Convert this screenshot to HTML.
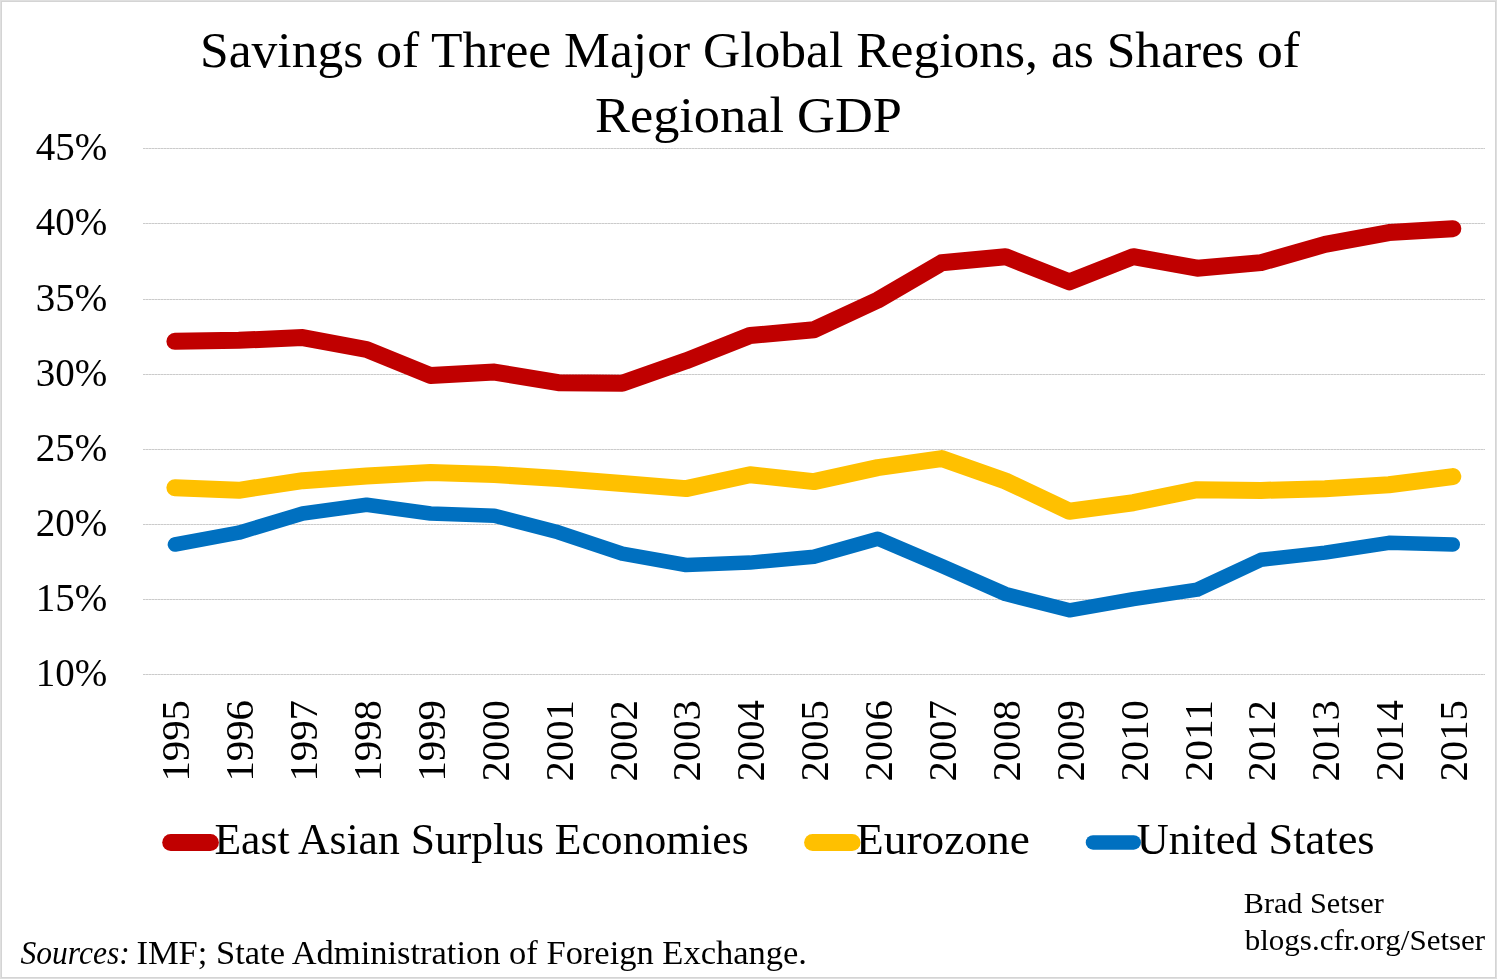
<!DOCTYPE html>
<html><head><meta charset="utf-8">
<style>
html,body{margin:0;padding:0;background:#fff;}
#c{position:relative;width:1497px;height:979px;overflow:hidden;background:#fff;}
#c .bd{position:absolute;left:0;top:0;width:1497px;height:979px;box-sizing:border-box;border:2px solid #dcdcdc;}
svg{position:absolute;left:0;top:0;will-change:transform;}
text{font-family:"Liberation Serif",serif;fill:#000;}
.tt{font-size:51.5px;}
.yl{font-size:39px;}
.xl{font-size:39.5px;}
.lg{font-size:43.8px;}
.src{font-size:34.5px;}
.by{font-size:30px;}
</style></head>
<body><div id="c">
<svg width="1497" height="979" viewBox="0 0 1497 979">
<rect x="1" y="1" width="1495" height="977" fill="none" stroke="#dfdfdf" stroke-width="2"/>
<rect x="1.5" y="1.5" width="1494" height="976" fill="none" stroke="#c9c9c9" stroke-width="1" stroke-dasharray="1 1"/>
<rect x="143" y="148" width="1342" height="1" fill="#dedede"/>
<line x1="143" y1="148.5" x2="1485" y2="148.5" stroke="#cbcbcb" stroke-width="1" stroke-dasharray="2 1"/>
<rect x="143" y="223" width="1342" height="1" fill="#dedede"/>
<line x1="143" y1="223.5" x2="1485" y2="223.5" stroke="#cbcbcb" stroke-width="1" stroke-dasharray="2 1"/>
<rect x="143" y="299" width="1342" height="1" fill="#dedede"/>
<line x1="143" y1="299.5" x2="1485" y2="299.5" stroke="#cbcbcb" stroke-width="1" stroke-dasharray="2 1"/>
<rect x="143" y="374" width="1342" height="1" fill="#dedede"/>
<line x1="143" y1="374.5" x2="1485" y2="374.5" stroke="#cbcbcb" stroke-width="1" stroke-dasharray="2 1"/>
<rect x="143" y="449" width="1342" height="1" fill="#dedede"/>
<line x1="143" y1="449.5" x2="1485" y2="449.5" stroke="#cbcbcb" stroke-width="1" stroke-dasharray="2 1"/>
<rect x="143" y="524" width="1342" height="1" fill="#dedede"/>
<line x1="143" y1="524.5" x2="1485" y2="524.5" stroke="#cbcbcb" stroke-width="1" stroke-dasharray="2 1"/>
<rect x="143" y="599" width="1342" height="1" fill="#dedede"/>
<line x1="143" y1="599.5" x2="1485" y2="599.5" stroke="#cbcbcb" stroke-width="1" stroke-dasharray="2 1"/>
<rect x="143" y="674" width="1342" height="1" fill="#dedede"/>
<line x1="143" y1="674.5" x2="1485" y2="674.5" stroke="#cbcbcb" stroke-width="1" stroke-dasharray="2 1"/>
<text x="107.20" y="159.90" text-anchor="end" class="yl">45%</text>
<text x="107.20" y="234.90" text-anchor="end" class="yl">40%</text>
<text x="107.20" y="310.90" text-anchor="end" class="yl">35%</text>
<text x="107.20" y="385.90" text-anchor="end" class="yl">30%</text>
<text x="107.20" y="460.90" text-anchor="end" class="yl">25%</text>
<text x="107.20" y="535.90" text-anchor="end" class="yl">20%</text>
<text x="107.20" y="610.90" text-anchor="end" class="yl">15%</text>
<text x="107.20" y="685.90" text-anchor="end" class="yl">10%</text>
<text transform="translate(189.35,700.00) rotate(-90)" text-anchor="end" class="xl" textLength="81.50" lengthAdjust="spacingAndGlyphs">1995</text>
<text transform="translate(253.24,700.00) rotate(-90)" text-anchor="end" class="xl" textLength="81.50" lengthAdjust="spacingAndGlyphs">1996</text>
<text transform="translate(317.13,700.00) rotate(-90)" text-anchor="end" class="xl" textLength="81.50" lengthAdjust="spacingAndGlyphs">1997</text>
<text transform="translate(381.02,700.00) rotate(-90)" text-anchor="end" class="xl" textLength="81.50" lengthAdjust="spacingAndGlyphs">1998</text>
<text transform="translate(444.91,700.00) rotate(-90)" text-anchor="end" class="xl" textLength="81.50" lengthAdjust="spacingAndGlyphs">1999</text>
<text transform="translate(508.80,700.00) rotate(-90)" text-anchor="end" class="xl" textLength="81.50" lengthAdjust="spacingAndGlyphs">2000</text>
<text transform="translate(572.69,700.00) rotate(-90)" text-anchor="end" class="xl" textLength="81.50" lengthAdjust="spacingAndGlyphs">2001</text>
<text transform="translate(636.58,700.00) rotate(-90)" text-anchor="end" class="xl" textLength="81.50" lengthAdjust="spacingAndGlyphs">2002</text>
<text transform="translate(700.47,700.00) rotate(-90)" text-anchor="end" class="xl" textLength="81.50" lengthAdjust="spacingAndGlyphs">2003</text>
<text transform="translate(764.36,700.00) rotate(-90)" text-anchor="end" class="xl" textLength="81.50" lengthAdjust="spacingAndGlyphs">2004</text>
<text transform="translate(828.25,700.00) rotate(-90)" text-anchor="end" class="xl" textLength="81.50" lengthAdjust="spacingAndGlyphs">2005</text>
<text transform="translate(892.14,700.00) rotate(-90)" text-anchor="end" class="xl" textLength="81.50" lengthAdjust="spacingAndGlyphs">2006</text>
<text transform="translate(956.03,700.00) rotate(-90)" text-anchor="end" class="xl" textLength="81.50" lengthAdjust="spacingAndGlyphs">2007</text>
<text transform="translate(1019.92,700.00) rotate(-90)" text-anchor="end" class="xl" textLength="81.50" lengthAdjust="spacingAndGlyphs">2008</text>
<text transform="translate(1083.81,700.00) rotate(-90)" text-anchor="end" class="xl" textLength="81.50" lengthAdjust="spacingAndGlyphs">2009</text>
<text transform="translate(1147.70,700.00) rotate(-90)" text-anchor="end" class="xl" textLength="81.50" lengthAdjust="spacingAndGlyphs">2010</text>
<text transform="translate(1211.59,700.00) rotate(-90)" text-anchor="end" class="xl" textLength="81.50" lengthAdjust="spacingAndGlyphs">2011</text>
<text transform="translate(1275.48,700.00) rotate(-90)" text-anchor="end" class="xl" textLength="81.50" lengthAdjust="spacingAndGlyphs">2012</text>
<text transform="translate(1339.37,700.00) rotate(-90)" text-anchor="end" class="xl" textLength="81.50" lengthAdjust="spacingAndGlyphs">2013</text>
<text transform="translate(1403.26,700.00) rotate(-90)" text-anchor="end" class="xl" textLength="81.50" lengthAdjust="spacingAndGlyphs">2014</text>
<text transform="translate(1467.15,700.00) rotate(-90)" text-anchor="end" class="xl" textLength="81.50" lengthAdjust="spacingAndGlyphs">2015</text>
<polyline points="174.9,544.5 238.8,532.7 302.7,513.5 366.6,504.7 430.5,513.5 494.4,515.7 558.3,532.3 622.2,553.7 686.1,565.0 750.0,562.6 813.9,556.7 877.7,538.7 941.6,565.8 1005.5,594.0 1069.4,610.3 1133.3,599.1 1197.2,589.6 1261.1,559.7 1325.0,552.6 1388.9,542.8 1452.8,544.5" fill="none" stroke="#0070C0" stroke-width="14.5" stroke-linejoin="round" stroke-linecap="round"/>
<polyline points="174.9,487.7 238.8,490.3 302.7,480.7 366.6,475.9 430.5,472.5 494.4,474.5 558.3,478.6 622.2,483.5 686.1,488.6 750.0,474.8 813.9,481.6 877.7,467.6 941.6,458.6 1005.5,481.0 1069.4,511.2 1133.3,502.7 1197.2,489.7 1261.1,490.4 1325.0,488.7 1388.9,484.8 1452.8,476.6" fill="none" stroke="#FFC000" stroke-width="17" stroke-linejoin="round" stroke-linecap="round"/>
<polyline points="174.9,341.3 238.8,340.3 302.7,337.6 366.6,349.5 430.5,375.5 494.4,372.1 558.3,382.7 622.2,383.3 686.1,360.8 750.0,335.5 813.9,329.7 877.7,300.1 941.6,262.8 1005.5,256.7 1069.4,281.9 1133.3,256.7 1197.2,268.2 1261.1,262.6 1325.0,244.4 1388.9,232.6 1452.8,228.7" fill="none" stroke="#C00000" stroke-width="17" stroke-linejoin="round" stroke-linecap="round"/>
<line x1="170.7" y1="842.4" x2="210.4" y2="842.4" stroke="#C00000" stroke-width="17" stroke-linecap="round"/>
<line x1="812.6" y1="842.4" x2="852.1" y2="842.4" stroke="#FFC000" stroke-width="17" stroke-linecap="round"/>
<line x1="1093" y1="842.4" x2="1133.7" y2="842.4" stroke="#0070C0" stroke-width="14.5" stroke-linecap="round"/>
<text x="214.41" y="854.40" class="lg" textLength="534.27" lengthAdjust="spacingAndGlyphs">East Asian Surplus Economies</text>
<text x="856.12" y="854.40" class="lg" textLength="173.76" lengthAdjust="spacingAndGlyphs">Eurozone</text>
<text x="1136.79" y="854.40" class="lg" textLength="237.82" lengthAdjust="spacingAndGlyphs">United States</text>
<text x="200.00" y="67.00" class="tt" textLength="1099.96" lengthAdjust="spacingAndGlyphs">Savings of Three Major Global Regions, as Shares of</text>
<text x="594.98" y="132.00" class="tt" textLength="306.89" lengthAdjust="spacingAndGlyphs">Regional GDP</text>
<text x="20.45" y="964.00" class="src" textLength="109.25" lengthAdjust="spacingAndGlyphs" font-style="italic">Sources:</text>
<text x="136.46" y="964.00" class="src" textLength="670.48" lengthAdjust="spacingAndGlyphs">IMF; State Administration of Foreign Exchange.</text>
<text x="1243.79" y="913.00" class="by" textLength="139.96" lengthAdjust="spacingAndGlyphs">Brad Setser</text>
<text x="1244.77" y="950.40" class="by" textLength="240.41" lengthAdjust="spacingAndGlyphs">blogs.cfr.org/Setser</text>
</svg></div></body></html>
